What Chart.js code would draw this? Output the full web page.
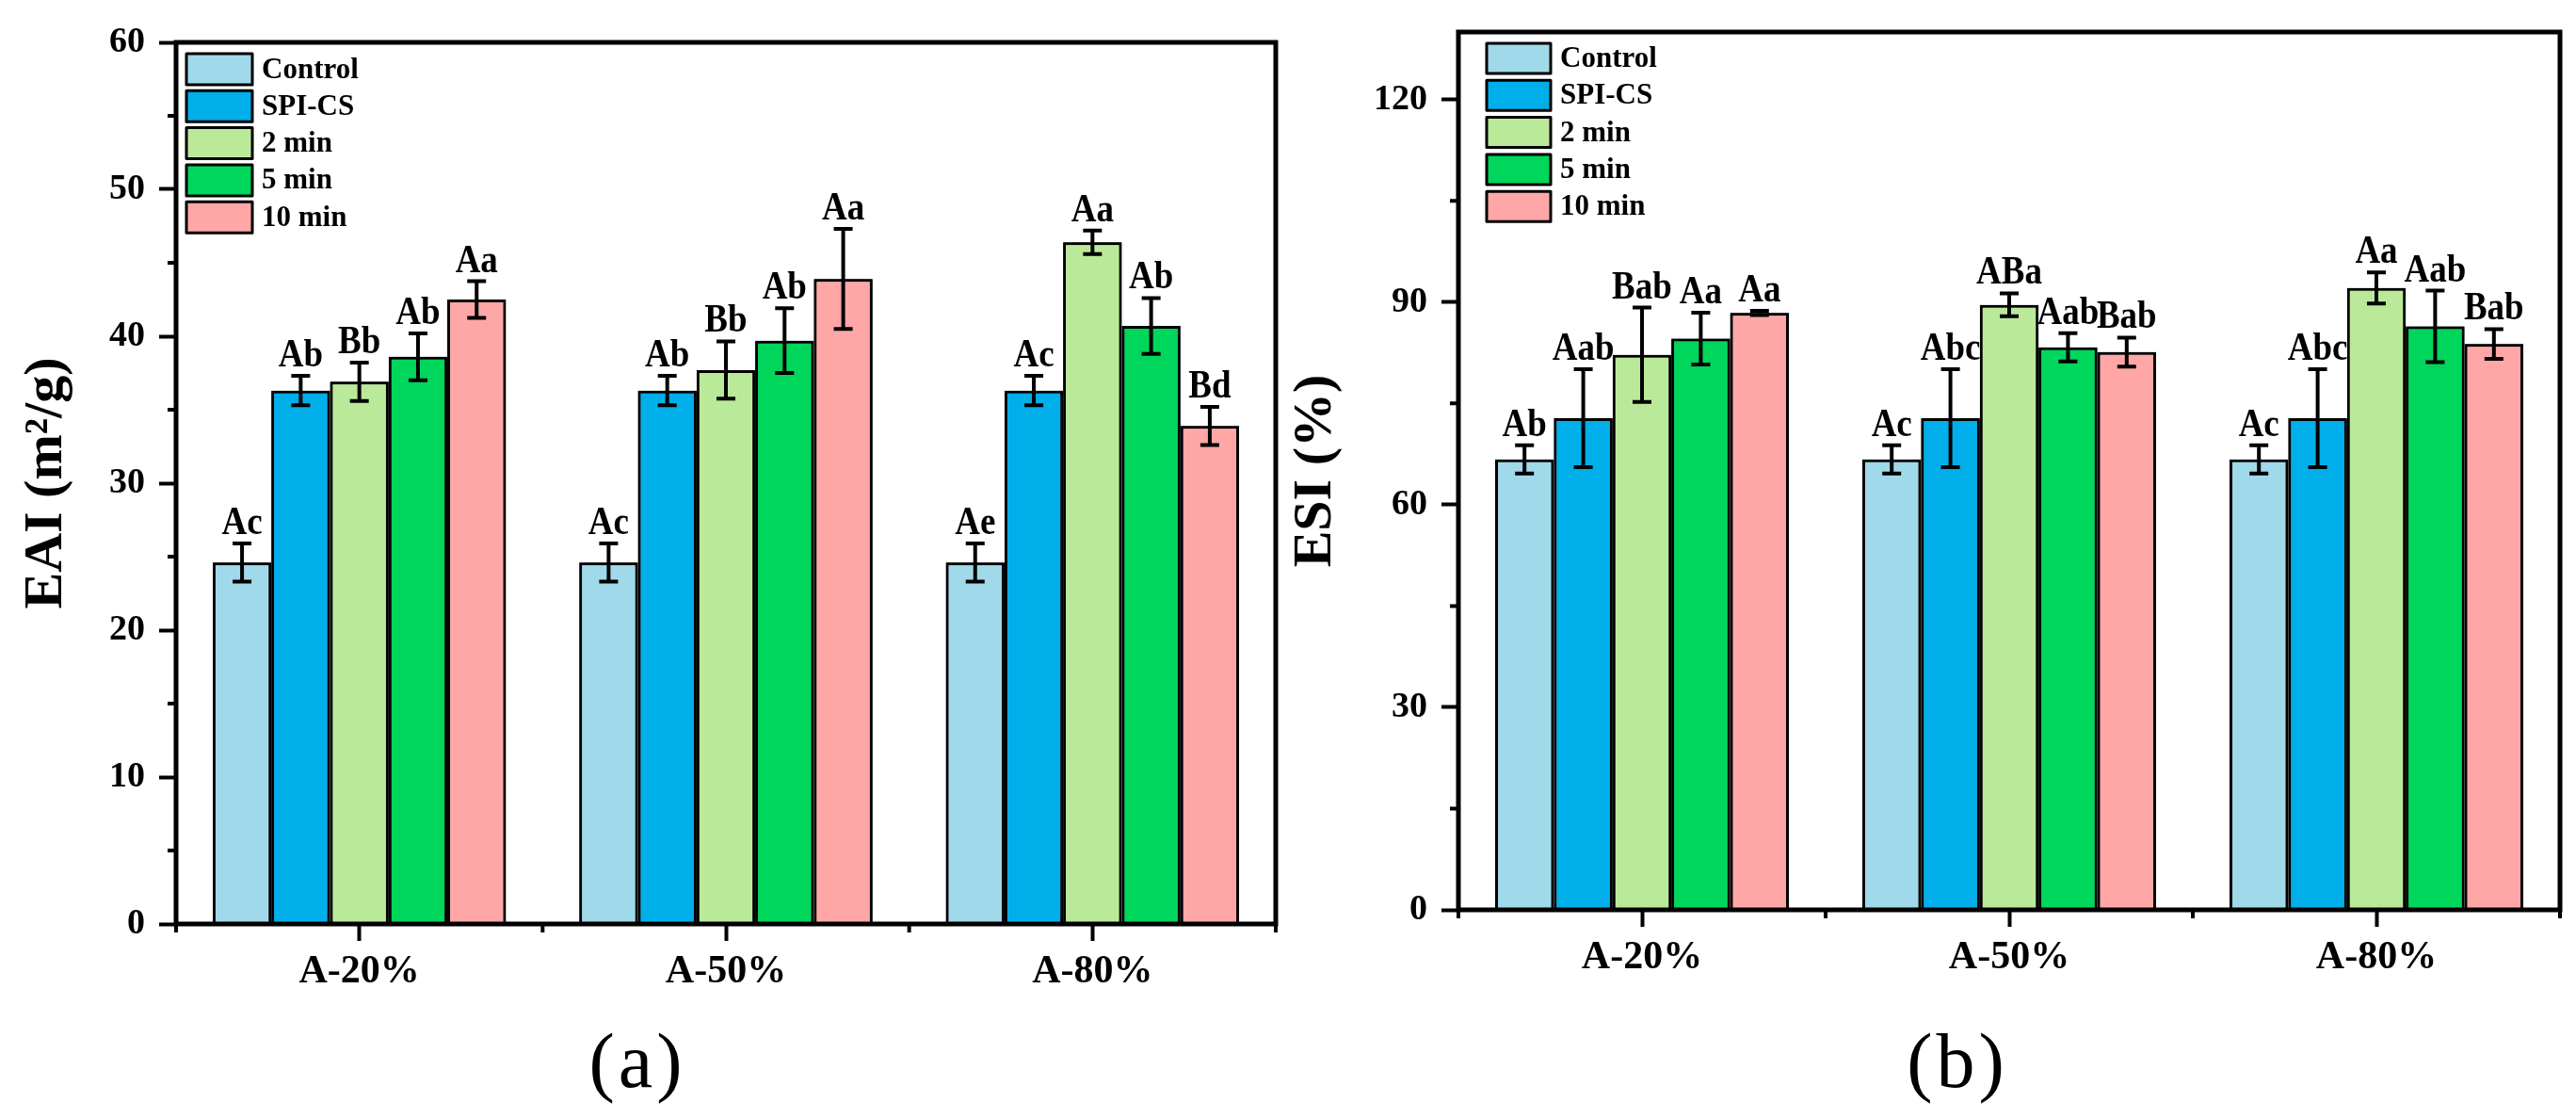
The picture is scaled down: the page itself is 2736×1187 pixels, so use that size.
<!DOCTYPE html>
<html>
<head>
<meta charset="utf-8">
<script src="https://cdn.jsdelivr.net/npm/chart.js@4.4.0/dist/chart.umd.min.js"></script>
<style>
  html, body { margin: 0; padding: 0; background: #fff; }
  #wrap { position: relative; width: 2736px; height: 1187px; overflow: hidden; }
  canvas { position: absolute; top: 0; }
  #chartEAI { left: 0; }
  #chartESI { left: 1368px; }
  .cap { position: absolute; top: 1086px; font-family: "Liberation Serif", serif; font-size: 82px;
         letter-spacing: 4px; line-height: 1; transform: translateX(-50%); color: #000; }
</style>
</head>
<body>
<div id="wrap">
  <canvas id="chartEAI" width="1368" height="1187"></canvas>
  <canvas id="chartESI" width="1368" height="1187"></canvas>
  <div class="cap" style="left:677px">(a)</div>
  <div class="cap" style="left:2079px">(b)</div>
</div>
<script>
const categories = ["A-20%", "A-50%", "A-80%"];
const seriesNames = ["Control", "SPI-CS", "2 min", "5 min", "10 min"];
const seriesColors = ["#a0d9e9", "#00afea", "#bbe99a", "#00d65b", "#ffa7a7"];

// EAI (m2/g), one row per series, one value per category
const eaiMean = [
  [24.6, 24.6, 24.6],
  [36.3, 36.3, 36.3],
  [36.9, 37.7, 46.4],
  [38.6, 39.7, 40.7],
  [42.5, 43.9, 33.9],
];
const eaiErr = [
  [1.3, 1.3, 1.3],
  [1.0, 1.0, 1.0],
  [1.3, 1.95, 0.8],
  [1.6, 2.2, 1.9],
  [1.25, 3.4, 1.3],
];
const eaiLetters = [
  ["Ac", "Ac", "Ae"],
  ["Ab", "Ab", "Ac"],
  ["Bb", "Bb", "Aa"],
  ["Ab", "Ab", "Ab"],
  ["Aa", "Aa", "Bd"],
];
const eaiTicks = [0, 10, 20, 30, 40, 50, 60];

// ESI (%)
const esiMean = [
  [66.7, 66.7, 66.7],
  [72.8, 72.8, 72.8],
  [82.2, 89.6, 92.1],
  [84.6, 83.3, 86.4],
  [88.4, 82.6, 83.8],
];
const esiErr = [
  [2.1, 2.1, 2.1],
  [7.25, 7.25, 7.25],
  [7.0, 1.7, 2.3],
  [3.85, 2.1, 5.3],
  [0.3, 2.15, 2.2],
];
const esiLetters = [
  ["Ab", "Ac", "Ac"],
  ["Aab", "Abc", "Abc"],
  ["Bab", "ABa", "Aa"],
  ["Aa", "Aab", "Aab"],
  ["Aa", "Bab", "Bab"],
];
const esiTicks = [0, 30, 60, 90, 120];

const FONT = "Liberation Serif";

function panelPlugin(p) {
  return {
    id: "panel",
    afterDatasetsDraw(chart) {
      const ctx = chart.ctx;
      const y = chart.scales.y;
      // bar i, then its error bars and letters, then bar i+1 on top
      for (let i = 0; i < chart.data.datasets.length; i++) {
        const meta = chart.getDatasetMeta(i);
        meta.data.forEach((bar) => bar.draw(ctx));
        meta.data.forEach((bar, j) => {
          const v = p.means[i][j], e = p.errs[i][j];
          const yt = y.getPixelForValue(v + e);
          const yb = y.getPixelForValue(v - e);
          ctx.save();
          ctx.strokeStyle = "#000";
          ctx.lineWidth = 4;
          ctx.beginPath();
          ctx.moveTo(bar.x, yt); ctx.lineTo(bar.x, yb);
          ctx.moveTo(bar.x - 10, yt); ctx.lineTo(bar.x + 10, yt);
          ctx.moveTo(bar.x - 10, yb); ctx.lineTo(bar.x + 10, yb);
          ctx.stroke();
          // letters look a bit tall in the original, stretch them slightly
          ctx.translate(bar.x, yt - 10);
          ctx.scale(1, 1.12);
          ctx.fillStyle = "#000";
          ctx.font = "bold 37px '" + FONT + "'";
          ctx.textAlign = "center";
          ctx.textBaseline = "alphabetic";
          ctx.fillText(p.letters[i][j], 0, 0);
          ctx.restore();
        });
      }
    },
    afterDraw(chart) {
      const ctx = chart.ctx, a = chart.chartArea;
      const x = chart.scales.x, y = chart.scales.y;
      ctx.save();
      ctx.strokeStyle = "#000";
      ctx.lineWidth = 5;
      ctx.strokeRect(a.left, a.top, a.right - a.left, a.bottom - a.top);

      // minor ticks
      ctx.lineWidth = 4;
      ctx.beginPath();
      const step = p.ticks[1] - p.ticks[0];
      p.ticks.forEach((t) => {
        const mv = t + step / 2;
        if (mv < p.max) {
          const py = y.getPixelForValue(mv);
          ctx.moveTo(a.left, py); ctx.lineTo(a.left - 9, py);
        }
      });
      const half = (x.getPixelForValue(1) - x.getPixelForValue(0)) / 2;
      for (let k = 0; k <= categories.length; k++) {
        const px = x.getPixelForValue(0) - half + 2 * half * k;
        ctx.moveTo(px, a.bottom); ctx.lineTo(px, a.bottom + 9);
      }
      ctx.stroke();

      // legend
      ctx.font = "bold 31px '" + FONT + "'";
      ctx.textAlign = "left";
      ctx.textBaseline = "middle";
      ctx.lineWidth = 3;
      ctx.lineJoin = "round";
      chart.data.datasets.forEach((ds, i) => {
        const by = p.legend.y + i * 39.3;
        ctx.fillStyle = ds.backgroundColor;
        ctx.fillRect(p.legend.x, by, p.legend.w, p.legend.h);
        ctx.strokeRect(p.legend.x, by, p.legend.w, p.legend.h);
        ctx.fillStyle = "#000";
        ctx.fillText(ds.label, p.legend.x + p.legend.w + 10, by + p.legend.h / 2 + 1);
      });
      ctx.restore();
    },
  };
}

function makeChart(id, p) {
  const tickFont = (size) => ({ family: FONT, weight: "bold", size: size, lineHeight: 1 });
  const gridTicks = {
    display: true, offset: false, drawOnChartArea: false, drawTicks: true,
    tickLength: 18, tickWidth: 4, tickColor: "#000",
  };
  return new Chart(document.getElementById(id), {
    type: "bar",
    data: {
      labels: categories,
      datasets: seriesNames.map((name, i) => ({
        label: name,
        data: p.means[i],
        backgroundColor: seriesColors[i],
        borderColor: "#000",
        borderWidth: 3,
        categoryPercentage: 0.8,
        barPercentage: 1,
      })),
    },
    options: {
      responsive: false,
      animation: false,
      devicePixelRatio: 1,
      layout: { padding: { left: 0, top: p.area.top, right: 1368 - p.area.right, bottom: 0 } },
      plugins: { legend: { display: false }, tooltip: { enabled: false } },
      scales: {
        x: {
          grid: gridTicks,
          border: { display: false },
          ticks: { color: "#000", font: tickFont(42), padding: 12, autoSkip: false, maxRotation: 0 },
          afterFit: (s) => { s.height = 1187 - p.area.bottom; },
        },
        y: {
          min: 0,
          max: p.max,
          afterBuildTicks: (s) => { s.ticks = p.ticks.map((v) => ({ value: v })); },
          grid: gridTicks,
          border: { display: false },
          ticks: { color: "#000", font: tickFont(38), padding: 15 },
          title: {
            display: true,
            text: p.yTitle,
            color: "#000",
            font: { family: FONT, weight: "bold", size: 58, lineHeight: 1 },
            padding: { top: p.titlePad, bottom: 0 },
          },
          afterFit: (s) => { s.width = p.area.left; },
        },
      },
    },
    plugins: [panelPlugin(p)],
  });
}

makeChart("chartEAI", {
  means: eaiMean, errs: eaiErr, letters: eaiLetters, ticks: eaiTicks, max: 60,
  yTitle: "EAI (m\u00b2/g)", titlePad: 21,
  area: { left: 187, top: 45, right: 1355, bottom: 981 },
  legend: { x: 198, y: 57, w: 70, h: 33 },
});

makeChart("chartESI", {
  means: esiMean, errs: esiErr, letters: esiLetters, ticks: esiTicks, max: 130,
  yTitle: "ESI (%)", titlePad: 1,
  area: { left: 181, top: 20, right: 1351, bottom: 966 },
  legend: { x: 211, y: 46, w: 68, h: 32 },
});
</script>
</body>
</html>
